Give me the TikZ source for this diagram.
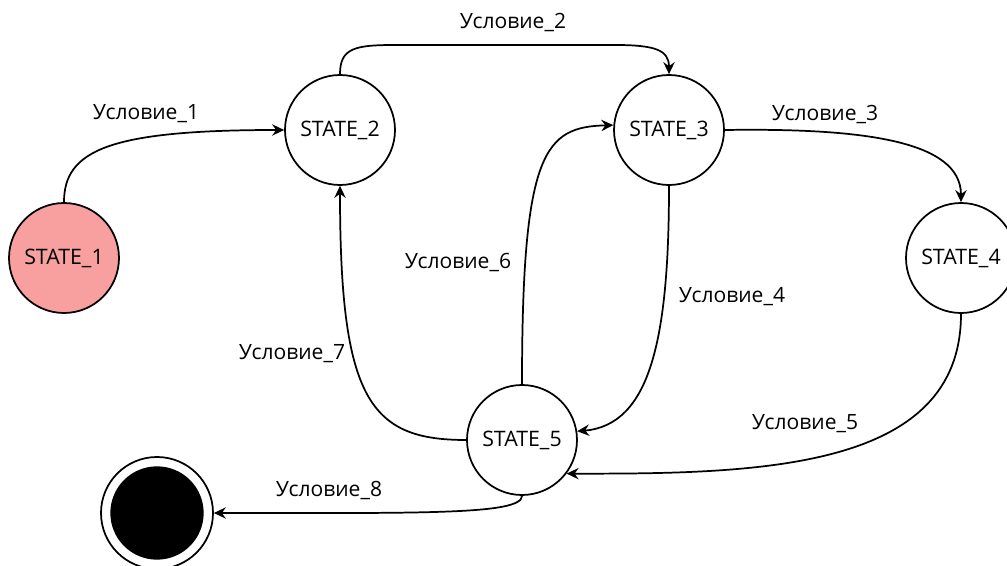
\documentclass[tikz,border=0pt]{standalone}
\usepackage{fontspec}
\setmainfont{Open Sans}
\usetikzlibrary{arrows.meta}
\definecolor{pinkfill}{RGB}{248,160,160}
\begin{document}
\begin{tikzpicture}[x=0.75pt,y=-0.75pt,
  st/.style={circle,draw,line width=1.3pt,minimum size=82.5pt,inner sep=0pt,font=\fontsize{16}{19}\selectfont},
  lbl/.style={font=\fontsize{15.8}{19}\selectfont,inner sep=0pt},
  edge/.style={line width=1.3pt,-{Stealth[length=9pt,width=8.5pt,inset=3pt]}}]
\useasboundingbox (0,0) rectangle (1007,566);
\node[st,fill=pinkfill] (s1) at (64,258) {STATE\_1};
\node[st] (s2) at (340,130) {STATE\_2};
\node[st] (s3) at (669,130) {STATE\_3};
\node[st] (s4) at (961,258) {STATE\_4};
\node[st] (s5) at (522,440) {STATE\_5};
\node[circle,draw,line width=1.3pt,minimum size=84pt,inner sep=0pt] (end) at (157,513) {};
\node[circle,fill=black,minimum size=70pt,inner sep=0pt] (endin) at (end.center) {};
\draw[edge] (s1.north) .. controls (64,150) and (110,130) .. (s2.west);
\draw[edge] (s2.north) .. controls (340,48) and (355,45) .. (395,45) -- (615,45) .. controls (655,45) and (669,50) .. (s3.north);
\draw[edge] (s3.east) .. controls (860,128) and (961,140) .. (s4.north);
\draw[edge] (s3.south) .. controls (669,340) and (650,425) .. (s5.9);
\draw[edge] (s4.south) .. controls (961,470) and (760,474) .. (s5.-37);
\draw[edge] (s5.north) .. controls (522,150) and (545,127) .. (s3.175);
\draw[edge] (s5.west) .. controls (370,440) and (340,400) .. (s2.south);
\draw[edge] (s5.south) .. controls (522,515) and (420,513) .. (end.east);
\node[lbl] (l1) at (146,114) {Условие\_1};
\node[lbl] (l2) at (513,22) {Условие\_2};
\node[lbl] (l3) at (825,114) {Условие\_3};
\node[lbl] (l4) at (732,297) {Условие\_4};
\node[lbl] (l5) at (805,424) {Условие\_5};
\node[lbl] (l6) at (458,262) {Условие\_6};
\node[lbl] (l7) at (292,354) {Условие\_7};
\node[lbl] (l8) at (329,490) {Условие\_8};
\end{tikzpicture}
\end{document}
